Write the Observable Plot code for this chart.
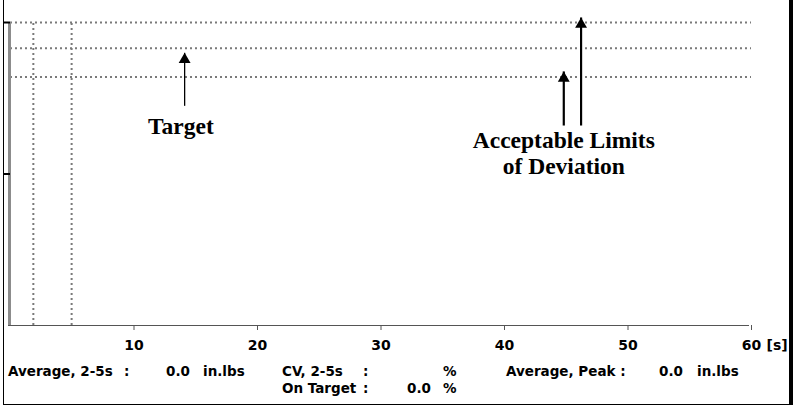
<!DOCTYPE html>
<html>
<head>
<meta charset="utf-8">
<script src="https://cdn.jsdelivr.net/npm/d3@7"></script>
<script src="https://cdn.jsdelivr.net/npm/@observablehq/plot@0.6"></script>
<style>
  html, body { margin: 0; padding: 0; background: #fff; }
  #wrap { position: relative; width: 794px; height: 412px; overflow: hidden; background: #fff; }
  #frame { position: absolute; left: 3px; top: -4px; width: 785px; height: 408px;
           border-left: 1.5px solid #000; border-bottom: 1.5px solid #000; border-right: 4px solid #000;
           pointer-events: none; }
  .stat { position: absolute; font-family: "DejaVu Sans", sans-serif; font-weight: bold; font-size: 13.5px;
          line-height: 13px; color: #000; white-space: pre; }
</style>
</head>
<body>
<div id="wrap"></div>
<script>
// ---- data ----
const xTicks = [10, 20, 30, 40, 50, 60];
const xUnit = "[s]";
const yTicks = [1, 2];
const windowBounds = [1.85, 4.95];       // 2-5 s averaging window
const limitLines = [2.0, 1.83, 1.64];    // upper limit, target, lower limit

const targetArrowX = [14.1];
const targetArrowFrom = [1.45];
const targetArrowTo = [1.80];

const limitArrowX = [44.8, 46.2];
const limitArrowFrom = [1.32, 1.32];
const limitArrowTo = [1.677, 2.033];

const noteText = ["Target", "Acceptable Limits\nof Deviation"];
const noteX = [13.8, 44.8];
const noteY = [1.316, 1.138];

const statLabels = ["Average, 2-5s", ":", "0.0", "in.lbs", "CV, 2-5s", ":", "%", "Average, Peak :", "0.0", "in.lbs",
                    "On Target", ":", "0.0", "%"];

// ---- chart ----
const idx = a => a.map((_, i) => i);
const chart = Plot.plot({
  width: 794,
  height: 412,
  marginLeft: 10,
  marginRight: 43,
  marginTop: 22,
  marginBottom: 87,
  x: {domain: [0, 60]},
  y: {domain: [0, 2]},
  style: {fontFamily: "DejaVu Sans, sans-serif", fontSize: "14px", fontWeight: "bold", background: "white", color: "#000"},
  marks: [
    // dotted limit lines
    Plot.ruleY(limitLines, {y: d => d, x1: 0, x2: 60, stroke: "#7a7a7a", strokeWidth: 2, strokeDasharray: "2,3"}),
    // dotted window lines
    Plot.ruleX(windowBounds, {x: d => d, y1: 0, y2: 2, stroke: "#7a7a7a", strokeWidth: 2, strokeDasharray: "2,3"}),
    // bottom axis line
    Plot.ruleY([0], {x1: 0, x2: 60, stroke: "#555", strokeWidth: 1, dx: -2}),
    // left gray axis bar
    Plot.ruleX([0], {y1: 0, y2: 2, stroke: "#8c8c8c", strokeWidth: 3, dx: -1}),
    // y ticks
    Plot.axisY({ticks: yTicks, tickSize: 6, tickFormat: () => "", stroke: "#000", strokeWidth: 2}),
    // x axis ticks + labels
    Plot.axisX({ticks: xTicks, tickSize: 5, tickPadding: 10, tickFormat: d => String(d),
                stroke: "#555", fill: "#000", fontWeight: "bold", fontSize: 14}),
    Plot.text([xUnit], {x: 60, frameAnchor: "bottom", text: d => d, textAnchor: "start", lineAnchor: "top",
                        dx: 15, dy: 15, fill: "#000", fontWeight: "bold", fontSize: 14}),
    // arrows
    Plot.link(idx(targetArrowX), {x1: i => targetArrowX[i], x2: i => targetArrowX[i],
                                  y1: i => targetArrowFrom[i], y2: i => targetArrowTo[i], stroke: "#000", strokeWidth: 1.3}),
    Plot.dot(idx(targetArrowX), {x: i => targetArrowX[i], y: i => targetArrowTo[i], symbol: "triangle",
                                 r: 4.4, fill: "#000", stroke: null, dy: 6.8}),
    Plot.link(idx(limitArrowX), {x1: i => limitArrowX[i], x2: i => limitArrowX[i],
                                 y1: i => limitArrowFrom[i], y2: i => limitArrowTo[i], stroke: "#000", strokeWidth: 2.2}),
    Plot.dot(idx(limitArrowX), {x: i => limitArrowX[i], y: i => limitArrowTo[i], symbol: "triangle",
                                r: 4.4, fill: "#000", stroke: null, dy: 6.8}),
    // annotation labels
    Plot.text(idx(noteText), {x: i => noteX[i], y: i => noteY[i], text: i => noteText[i],
                              fontFamily: "Liberation Serif, Times New Roman, serif", fontSize: 23.5,
                              fontWeight: "bold", lineHeight: 1.1, fill: "#000"})
  ]
});

const wrap = document.getElementById("wrap");
wrap.appendChild(chart);
chart.style.position = "absolute";
chart.style.left = "0px";
chart.style.top = "0px";

// stats rows (layout positions)
const statPos = [
  [8, 365], [124, 365], [166, 365], [203, 365], [282, 365], [363, 365], [443, 365], [506, 365], [659, 365], [697, 365],
  [282, 382], [363, 382], [407, 382], [443, 382]
];
statLabels.forEach((t, i) => {
  const s = document.createElement("div");
  s.className = "stat";
  s.textContent = t;
  s.style.left = statPos[i][0] + "px";
  s.style.top = statPos[i][1] + "px";
  wrap.appendChild(s);
});

const frame = document.createElement("div");
frame.id = "frame";
wrap.appendChild(frame);
</script>
</body>
</html>
